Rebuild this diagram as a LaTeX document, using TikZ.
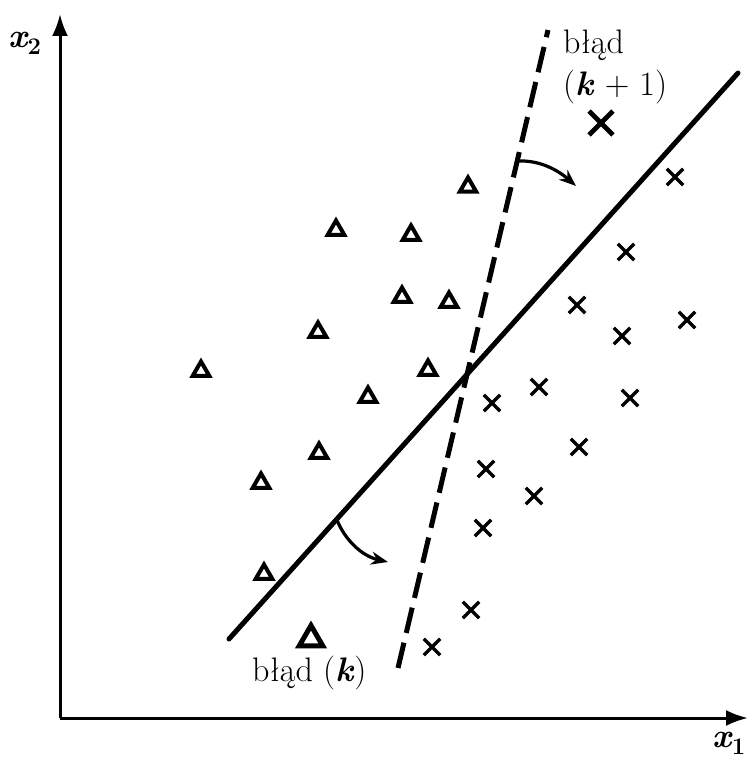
\documentclass[tikz,border=0pt]{standalone}
\usepackage{fontspec}
\usetikzlibrary{shapes.geometric,shapes.misc,arrows.meta}
\begin{document}
\begin{tikzpicture}[x=1pt,y=-1pt,
  tri/.style={regular polygon,regular polygon sides=3,draw,line width=4pt,minimum size=19pt,inner sep=0pt},
  bigtri/.style={tri,minimum size=27pt,line width=5pt},
  crs/.style={cross out,draw,line width=3.4pt,minimum size=13pt,inner sep=0pt},
  bigcrs/.style={crs,minimum size=19pt,line width=4.8pt},
  lbl/.style={font=\fontsize{34}{40}\selectfont,inner sep=0pt},
  axlbl/.style={font=\fontsize{34}{40}\selectfont\bfseries\itshape,inner sep=0pt},
  axisline/.style={line width=3pt,-{Latex[length=22pt,width=16pt]}},
  boundary/.style={line width=5pt,line cap=round},
  oldboundary/.style={boundary,dash pattern=on 26pt off 10pt,line cap=butt},
  turn/.style={line width=3.2pt,-{Stealth[length=17pt,width=13pt]}}]
\useasboundingbox (0,0) rectangle (748,759);
% axes
\coordinate (O) at (60,718);
\coordinate (Ytop) at (60,14);
\coordinate (Xend) at (748,718);
\draw[axisline] (O) -- (Ytop);
\draw[axisline] (O) -- (Xend);
\node[axlbl] (x2) at (25,43) {x\textsubscript{\upshape 2}};
\node[axlbl,anchor=south east] (x1) at (746,755) {x\textsubscript{\upshape 1}};
% boundaries
\coordinate (Sa) at (229,639);
\coordinate (Sb) at (738,73);
\coordinate (Da) at (398,668);
\coordinate (Db) at (548,30);
\draw[boundary] (Sa) -- (Sb);
\draw[oldboundary] (Da) -- (Db);
% turning arrows
\coordinate (U0) at (518,161);
\coordinate (U1) at (576,186);
\coordinate (L0) at (337,520);
\coordinate (L1) at (388,562);
\draw[turn] (U0) .. controls (542,160) and (560,172) .. (U1);
\draw[turn] (L0) .. controls (345,540) and (362,556) .. (L1);
% labels
\node[lbl,anchor=west] (bk1a) at (563,45) {błąd};
\node[lbl,anchor=west] (bk1b) at (563,87) {(\textbf{\textit{k}} + 1)};
\node[lbl,anchor=west] (bk) at (252,673) {błąd (\textbf{\textit{k}})};
% triangles
\node[tri] (t1) at (468,187) {};
\node[tri] (t2) at (336,230) {};
\node[tri] (t3) at (411,235) {};
\node[tri] (t4) at (402,297) {};
\node[tri] (t5) at (449,302) {};
\node[tri] (t6) at (318,332) {};
\node[tri] (t7) at (201,371) {};
\node[tri] (t8) at (428,370) {};
\node[tri] (t9) at (368,397) {};
\node[tri] (t10) at (319,453) {};
\node[tri] (t11) at (261,483) {};
\node[tri] (t12) at (264,574) {};
\node[bigtri] (T) at (311,639) {};
% crosses
\node[crs] (c1) at (675,177) {};
\node[crs] (c2) at (626,252) {};
\node[crs] (c3) at (577,305) {};
\node[crs] (c4) at (622,336) {};
\node[crs] (c5) at (687,320) {};
\node[crs] (c6) at (492,403) {};
\node[crs] (c7) at (539,387) {};
\node[crs] (c8) at (630,398) {};
\node[crs] (c9) at (579,447) {};
\node[crs] (c10) at (486,469) {};
\node[crs] (c11) at (534,496) {};
\node[crs] (c12) at (483,528) {};
\node[crs] (c13) at (471,610) {};
\node[crs] (c14) at (432,647) {};
\node[bigcrs] (C) at (601,123) {};
\end{tikzpicture}
\end{document}
